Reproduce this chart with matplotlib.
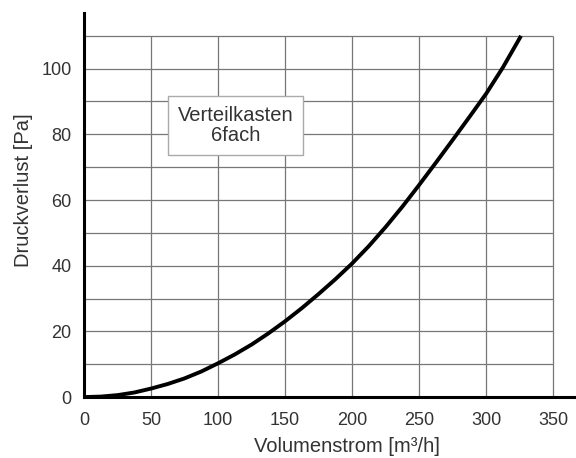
import numpy as np
import matplotlib.pyplot as plt

plt.rcParams['font.family'] = ['Liberation Sans', 'DejaVu Sans']

# Kennlinie Verteilkasten 6fach
volumenstrom = [0, 12.5, 25, 37.5, 50, 62.5, 75, 87.5, 100, 112.5, 125, 137.5,
                150, 162.5, 175, 187.5, 200, 212.5, 225, 237.5, 250, 262.5,
                275, 287.5, 300, 312.5, 326]
druckverlust = [0, 0.15, 0.6, 1.4, 2.6, 4.0, 5.7, 7.8, 10.3, 13.0, 16.0, 19.4,
                23.1, 27.1, 31.4, 35.9, 40.7, 46.0, 51.8, 58.0, 64.6, 71.4,
                78.3, 85.3, 92.4, 100.4, 110]

x_ticks = [0, 50, 100, 150, 200, 250, 300, 350]
y_ticks = [0, 20, 40, 60, 80, 100]
y_grid = np.arange(10, 111, 10)

fig = plt.figure(figsize=(5.76, 4.58), dpi=100)
ax = fig.add_axes([0.146, 0.133, 0.854, 0.839])

# Raster nur bis 350 / 110
ax.hlines(y_grid, 0, 350, color='#777777', lw=0.9, zorder=1)
ax.vlines(x_ticks[1:], 0, 110, color='#777777', lw=0.9, zorder=1)

ax.plot(volumenstrom, druckverlust, color='black', lw=2.8, zorder=3,
        solid_capstyle='butt', solid_joinstyle='round')

ax.set_xlim(0, 367)
ax.set_ylim(0, 117)
ax.set_xticks(x_ticks)
ax.set_yticks(y_ticks)
ax.tick_params(length=0, labelsize=13, labelcolor='#333333')
ax.tick_params(axis='x', pad=11)
ax.tick_params(axis='y', pad=9)

for s in ['top', 'right']:
    ax.spines[s].set_visible(False)
for s in ['left', 'bottom']:
    ax.spines[s].set_linewidth(2.2)
    ax.spines[s].set_color('black')

ax.set_xlabel('Volumenstrom [m³/h]', fontsize=14.5, color='#333333')
ax.xaxis.set_label_coords(0.535, -0.104)
ax.set_ylabel('Druckverlust [Pa]', fontsize=14.5, color='#333333')
ax.yaxis.set_label_coords(-0.104, 0.539)

ax.text(113, 82.7, 'Verteilkasten\n6fach', fontsize=14.5, color='#333333',
        ha='center', va='center', zorder=4, linespacing=1.1,
        bbox=dict(boxstyle='square,pad=0.5', fc='white', ec='#aaaaaa', lw=1))

plt.savefig('out.png', dpi=100)
